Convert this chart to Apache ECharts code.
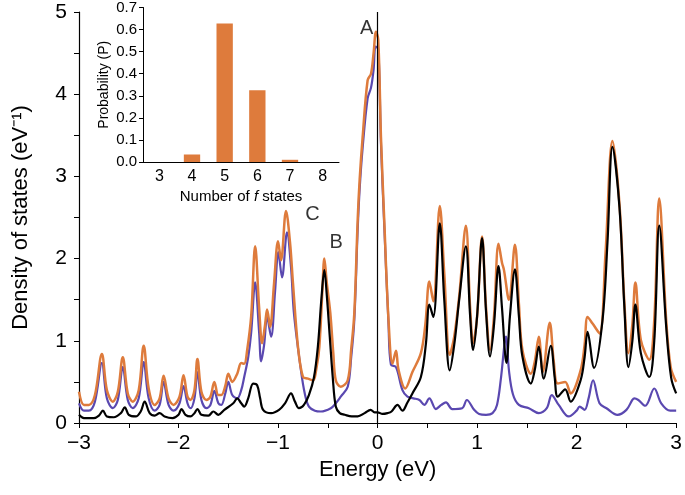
<!DOCTYPE html>
<html>
<head>
<meta charset="utf-8">
<script src="https://cdn.jsdelivr.net/npm/echarts@6/dist/echarts.min.js"></script>
<style>html,body{margin:0;padding:0;background:#fff}#c{width:685px;height:495px}</style>
</head>
<body>
<div id="c"></div>
<script>
// Main chart: density of states vs energy (eV)
const totalDOS = [
[-3.00,0.38],[-2.95,0.22],[-2.90,0.22],[-2.84,0.34],[-2.77,0.84],[-2.72,0.40],[-2.66,0.26],[-2.61,0.38],[-2.56,0.80],[-2.51,0.36],
[-2.46,0.26],[-2.40,0.40],[-2.35,0.94],[-2.30,0.42],[-2.24,0.22],[-2.19,0.30],[-2.15,0.575],[-2.10,0.30],[-2.05,0.22],[-1.99,0.32],
[-1.95,0.58],[-1.91,0.32],[-1.88,0.28],[-1.84,0.40],[-1.81,0.78],[-1.77,0.38],[-1.72,0.28],[-1.68,0.32],[-1.64,0.50],[-1.60,0.34],
[-1.57,0.34],[-1.53,0.45],[-1.50,0.60],[-1.46,0.50],[-1.41,0.60],[-1.37,0.73],[-1.34,0.72],[-1.31,0.89],[-1.27,1.30],[-1.23,2.15],
[-1.19,1.40],[-1.16,0.97],[-1.13,1.20],[-1.11,1.38],[-1.08,1.17],[-1.04,1.70],[-1.00,2.21],[-0.97,1.98],[-0.92,2.58],[-0.88,2.20],
[-0.85,1.70],[-0.80,0.93],[-0.75,0.56],[-0.70,0.54],[-0.65,0.52],[-0.61,0.70],[-0.585,0.93],[-0.555,1.60],[-0.535,2.00],[-0.51,1.70],
[-0.475,1.34],[-0.445,0.85],[-0.42,0.52],[-0.37,0.44],[-0.30,0.52],[-0.265,0.90],[-0.234,1.33],[-0.20,2.47],[-0.18,2.96],[-0.15,3.48],
[-0.10,4.17],[-0.066,4.25],[-0.04,4.50],[-0.016,4.76],[0.007,4.66],[0.034,3.48],[0.067,2.47],[0.11,1.25],[0.15,0.72],[0.185,0.88],
[0.21,0.65],[0.278,0.42],[0.35,0.62],[0.435,0.85],[0.48,1.20],[0.52,1.72],[0.56,1.48],[0.625,2.64],[0.67,1.82],[0.725,0.83],
[0.77,1.05],[0.82,1.54],[0.887,2.40],[0.93,1.40],[0.96,0.97],[1.00,1.30],[1.05,2.27],[1.09,1.40],[1.13,0.89],[1.17,1.30],
[1.215,2.18],[1.25,1.95],[1.27,1.86],[1.32,1.50],[1.38,2.17],[1.42,1.45],[1.455,0.89],[1.54,0.60],[1.58,0.75],[1.62,1.05],
[1.66,0.62],[1.73,1.22],[1.77,0.75],[1.81,0.48],[1.885,0.50],[1.94,0.36],[2.04,0.64],[2.08,0.95],[2.11,1.29],[2.16,1.21],
[2.23,1.09],[2.29,2.06],[2.36,3.43],[2.43,2.67],[2.48,1.46],[2.52,0.85],[2.56,1.20],[2.59,1.71],[2.645,1.01],[2.73,0.77],
[2.78,1.25],[2.83,2.73],[2.90,1.25],[2.945,0.68],[3.00,0.50]
];
const blackDOS = [
[-3.00,0.10],[-2.95,0.06],[-2.85,0.06],[-2.80,0.09],[-2.76,0.15],[-2.72,0.08],[-2.65,0.07],[-2.58,0.12],[-2.54,0.19],[-2.50,0.10],
[-2.43,0.08],[-2.38,0.14],[-2.34,0.26],[-2.29,0.12],[-2.24,0.09],[-2.19,0.12],[-2.14,0.08],[-2.06,0.06],[-2.00,0.10],[-1.97,0.17],
[-1.93,0.10],[-1.88,0.08],[-1.84,0.12],[-1.81,0.17],[-1.77,0.10],[-1.70,0.09],[-1.65,0.14],[-1.60,0.10],[-1.54,0.16],[-1.45,0.24],
[-1.41,0.30],[-1.37,0.24],[-1.34,0.20],[-1.30,0.30],[-1.25,0.48],[-1.21,0.46],[-1.18,0.30],[-1.15,0.16],[-1.07,0.12],[-0.99,0.16],
[-0.93,0.24],[-0.87,0.36],[-0.83,0.26],[-0.79,0.18],[-0.74,0.22],[-0.69,0.34],[-0.64,0.55],[-0.60,0.93],[-0.565,1.50],[-0.535,1.86],
[-0.51,1.55],[-0.485,1.13],[-0.45,0.55],[-0.42,0.20],[-0.38,0.12],[-0.33,0.10],[-0.26,0.08],[-0.20,0.08],[-0.13,0.12],[-0.07,0.16],
[-0.03,0.13],[0.00,0.13],[0.05,0.11],[0.10,0.12],[0.14,0.14],[0.20,0.22],[0.25,0.15],[0.30,0.25],[0.35,0.36],[0.435,0.56],
[0.486,0.97],[0.52,1.44],[0.56,1.29],[0.625,2.43],[0.67,1.50],[0.725,0.64],[0.77,0.95],[0.82,1.50],[0.887,2.15],[0.93,1.30],
[0.96,0.89],[1.00,1.30],[1.05,2.25],[1.09,1.35],[1.13,0.81],[1.17,1.20],[1.215,1.91],[1.25,1.40],[1.295,0.73],[1.33,1.30],
[1.38,1.87],[1.42,1.30],[1.455,0.81],[1.54,0.48],[1.58,0.65],[1.62,0.93],[1.67,0.54],[1.74,0.94],[1.78,0.55],[1.81,0.32],
[1.885,0.41],[1.94,0.26],[2.04,0.52],[2.08,0.80],[2.11,1.11],[2.175,0.67],[2.26,1.25],[2.31,2.20],[2.36,3.36],[2.43,2.63],
[2.48,1.40],[2.52,0.68],[2.56,1.00],[2.59,1.44],[2.645,0.85],[2.73,0.56],[2.78,1.00],[2.83,2.40],[2.90,1.17],[2.95,0.55],[3.00,0.36]
];
const purpleDOS = [
[-3.00,0.24],[-2.95,0.15],[-2.90,0.15],[-2.84,0.26],[-2.77,0.73],[-2.72,0.30],[-2.66,0.18],[-2.61,0.28],[-2.56,0.68],[-2.51,0.28],
[-2.46,0.18],[-2.40,0.30],[-2.35,0.74],[-2.30,0.30],[-2.24,0.15],[-2.19,0.22],[-2.15,0.50],[-2.10,0.22],[-2.05,0.15],[-1.99,0.24],
[-1.95,0.45],[-1.91,0.24],[-1.88,0.18],[-1.84,0.30],[-1.81,0.62],[-1.77,0.28],[-1.72,0.18],[-1.68,0.22],[-1.64,0.39],[-1.60,0.24],
[-1.57,0.22],[-1.53,0.36],[-1.50,0.50],[-1.46,0.34],[-1.41,0.30],[-1.37,0.40],[-1.34,0.56],[-1.30,0.80],[-1.27,1.10],[-1.23,1.71],
[-1.19,1.10],[-1.17,0.75],[-1.14,0.95],[-1.11,1.29],[-1.07,1.05],[-1.03,1.60],[-0.997,2.08],[-0.96,1.77],[-0.91,2.32],[-0.87,1.90],
[-0.84,1.33],[-0.77,0.64],[-0.73,0.35],[-0.69,0.20],[-0.63,0.15],[-0.57,0.14],[-0.47,0.18],[-0.42,0.24],[-0.37,0.32],[-0.30,0.44],
[-0.265,0.80],[-0.234,1.25],[-0.20,2.35],[-0.18,2.85],[-0.15,3.35],[-0.10,3.95],[-0.066,4.08],[-0.04,4.30],[-0.02,4.58],[0.007,4.55],
[0.034,3.40],[0.067,2.40],[0.11,1.20],[0.134,0.71],[0.185,0.68],[0.25,0.40],[0.30,0.32],[0.36,0.30],[0.42,0.28],[0.47,0.22],
[0.52,0.30],[0.586,0.17],[0.64,0.22],[0.687,0.25],[0.75,0.17],[0.85,0.18],[0.897,0.28],[0.97,0.16],[1.02,0.11],[1.09,0.10],
[1.155,0.12],[1.20,0.22],[1.24,0.55],[1.29,1.05],[1.32,0.64],[1.36,0.35],[1.42,0.22],[1.52,0.18],[1.62,0.12],[1.70,0.18],
[1.75,0.34],[1.82,0.22],[1.92,0.08],[2.00,0.15],[2.03,0.20],[2.08,0.16],[2.12,0.30],[2.165,0.52],[2.23,0.24],[2.30,0.18],
[2.41,0.10],[2.50,0.16],[2.56,0.28],[2.58,0.30],[2.62,0.28],[2.69,0.21],[2.78,0.42],[2.85,0.24],[2.94,0.15],[3.00,0.15]
];
// Peak annotations
const peakLabels = ['A', 'B', 'C'];
const peakLabelPos = [[-0.11, 4.8], [-0.415, 2.19], [-0.655, 2.54]];
// Inset: probability vs number of f states
const fStates = ['3', '4', '5', '6', '7', '8'];
const probability = [0, 0.034, 0.628, 0.325, 0.01, 0];

const ORANGE = '#DE7B3C', PURPLE = '#5A48B0', FONT = '"Liberation Sans", Arial, sans-serif';
const minus = v => String(v).replace('-', '\u2212');

const chart = echarts.init(document.getElementById('c'), null, {renderer: 'canvas'});
chart.setOption({
  animation: false,
  backgroundColor: '#fff',
  textStyle: {fontFamily: FONT, color: '#000'},
  grid: [
    {left: 79, right: 8, top: 12, bottom: 72},
    {left: 143, top: 7, width: 196, height: 155}
  ],
  xAxis: [
    {gridIndex: 0, type: 'value', min: -3, max: 3, interval: 0.5,
     axisLine: {onZero: false, lineStyle: {color: '#000', width: 1.2}},
     axisTick: {length: 5, lineStyle: {color: '#000'}},
     axisLabel: {fontSize: 21, color: '#000', margin: 10, fontFamily: FONT,
       formatter: v => Number.isInteger(v) ? minus(v) : ''},
     splitLine: {show: false},
     name: 'Energy (eV)', nameLocation: 'middle', nameGap: 33,
     nameTextStyle: {fontSize: 22, color: '#000', fontFamily: FONT}},
    {gridIndex: 1, type: 'category', data: fStates,
     axisLine: {onZero: false, lineStyle: {color: '#000', width: 1}},
     axisTick: {length: 4, lineStyle: {color: '#000'}},
     axisLabel: {fontSize: 16, color: '#000', margin: 7, fontFamily: FONT},
     name: '{n|Number of }{i|f}{n| states}', nameLocation: 'middle', nameGap: 27,
     nameTextStyle: {rich: {n: {fontSize: 15, fontFamily: FONT, color: '#000'}, i: {fontSize: 15, fontStyle: 'italic', fontFamily: FONT, color: '#000'}}}}
  ],
  yAxis: [
    {gridIndex: 0, type: 'value', min: 0, max: 5, interval: 0.5,
     axisLine: {show: true, onZero: false, lineStyle: {color: '#000', width: 1.2}},
     axisTick: {show: true, length: 5, lineStyle: {color: '#000'}},
     axisLabel: {fontSize: 21, color: '#000', margin: 12, fontFamily: FONT,
       formatter: v => Number.isInteger(v) ? minus(v) : ''},
     splitLine: {show: false},
     name: 'Density of states (eV\u207B\u00B9)', nameLocation: 'middle', nameGap: 47,
     nameTextStyle: {fontSize: 22, color: '#000', fontFamily: FONT}},
    {gridIndex: 1, type: 'value', min: 0, max: 0.7, interval: 0.1,
     axisLine: {show: true, onZero: false, lineStyle: {color: '#000', width: 1}},
     axisTick: {show: true, length: 4, lineStyle: {color: '#000'}},
     axisLabel: {fontSize: 15, color: '#000', margin: 6, fontFamily: FONT, formatter: v => v.toFixed(1)},
     splitLine: {show: false},
     name: 'Probability (P)', nameLocation: 'middle', nameGap: 32,
     nameTextStyle: {fontSize: 14, color: '#000', fontFamily: FONT}}
  ],
  series: [
    {type: 'line', xAxisIndex: 0, yAxisIndex: 0, data: purpleDOS, showSymbol: false, smooth: 0.35,
     lineStyle: {color: PURPLE, width: 2.2}, z: 3},
    {type: 'line', xAxisIndex: 0, yAxisIndex: 0, data: totalDOS, showSymbol: false, smooth: 0.35,
     lineStyle: {color: ORANGE, width: 2.5}, z: 4},
    {type: 'line', xAxisIndex: 0, yAxisIndex: 0, data: blackDOS, showSymbol: false, smooth: 0.35,
     lineStyle: {color: '#000', width: 2.2}, z: 5,
     markLine: {silent: true, symbol: 'none', label: {show: false},
       lineStyle: {color: '#000', width: 1.2, type: 'solid'}, data: [{xAxis: 0}]}},
    {type: 'scatter', xAxisIndex: 0, yAxisIndex: 0, symbolSize: 0, z: 6,
     data: peakLabelPos.map((p, i) => ({value: p, name: peakLabels[i]})),
     label: {show: true, position: 'inside', formatter: p => p.name, fontSize: 20, color: '#000', fontFamily: FONT}},
    {type: 'bar', xAxisIndex: 1, yAxisIndex: 1, data: probability, barWidth: '50%',
     itemStyle: {color: ORANGE}}
  ]
});
</script>
</body>
</html>
